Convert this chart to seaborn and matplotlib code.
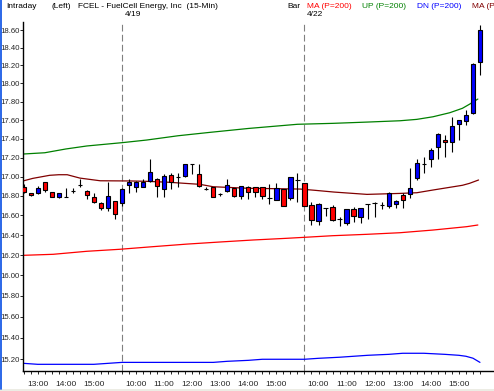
import numpy as np
import matplotlib
matplotlib.use("Agg")
import matplotlib.pyplot as plt
import seaborn as sns
from matplotlib.ticker import FixedLocator, FixedFormatter, NullFormatter

# 15-min bars: 4/18 from 12:30, full 4/19, full 4/22
bar_idx = list(range(66))
opens = [16.895, 16.833, 16.826, 16.941, 16.837, 16.792, 16.792, 16.848, 16.908, 16.854,
         16.792, 16.724, 16.673, 16.748, 16.724, 16.910, 16.892, 16.889, 16.957, 16.972,
         16.868, 17.017, 17.000, 17.006, 17.129, 17.025, 16.871, 16.895, 16.816, 16.851,
         16.878, 16.802, 16.889, 16.889, 16.889, 16.782, 16.758, 16.868, 16.775, 16.965,
         16.930, 16.707, 16.546, 16.673, 16.683, 16.563, 16.520, 16.666, 16.581, 16.717,
         16.728, 16.704, 16.700, 16.714, 16.810, 16.820, 16.982, 17.136, 17.182, 17.309,
         17.386, 17.365, 17.561, 17.590, 17.673, 18.235]
highs = [16.920, 16.835, 16.905, 16.948, 16.844, 16.833, 16.878, 16.878, 16.975, 16.861,
         16.826, 16.738, 16.948, 16.748, 16.878, 16.972, 16.950, 16.972, 17.182, 16.982,
         17.028, 17.035, 17.035, 17.129, 17.130, 17.132, 16.895, 16.895, 16.826, 16.972,
         16.878, 16.899, 16.902, 16.895, 16.889, 16.923, 16.937, 16.868, 16.993, 17.035,
         16.937, 16.740, 16.724, 16.673, 16.707, 16.587, 16.666, 16.690, 16.676, 16.717,
         16.740, 16.740, 16.844, 16.758, 16.826, 17.087, 17.185, 17.209, 17.298, 17.458,
         17.440, 17.630, 17.601, 17.709, 18.231, 18.657]
lows = [16.835, 16.800, 16.816, 16.837, 16.786, 16.782, 16.792, 16.826, 16.895, 16.772,
        16.731, 16.655, 16.645, 16.563, 16.700, 16.830, 16.844, 16.889, 16.948, 16.792,
        16.792, 16.871, 16.895, 16.993, 17.028, 16.895, 16.861, 16.786, 16.800, 16.840,
        16.786, 16.768, 16.768, 16.792, 16.768, 16.714, 16.758, 16.694, 16.758, 16.740,
        16.697, 16.503, 16.503, 16.594, 16.540, 16.496, 16.503, 16.535, 16.526, 16.560,
        16.581, 16.666, 16.673, 16.673, 16.673, 16.775, 16.965, 17.041, 17.104, 17.182,
        17.203, 17.262, 17.386, 17.544, 17.663, 18.094]
closes = [16.844, 16.810, 16.881, 16.861, 16.792, 16.830, 16.792, 16.848, 16.908, 16.810,
          16.738, 16.673, 16.800, 16.614, 16.868, 16.948, 16.948, 16.948, 17.048, 16.905,
          17.006, 16.948, 17.000, 17.129, 17.129, 16.905, 16.871, 16.792, 16.816, 16.910,
          16.802, 16.899, 16.844, 16.844, 16.802, 16.782, 16.878, 16.700, 16.993, 16.965,
          16.697, 16.553, 16.714, 16.673, 16.553, 16.563, 16.666, 16.598, 16.676, 16.717,
          16.728, 16.704, 16.826, 16.745, 16.758, 16.882, 17.140, 17.136, 17.280, 17.447,
          17.362, 17.536, 17.601, 17.655, 18.216, 18.600]

# indicator lines, read at points along the bar axis
ma_fast_x = [0, 1.3, 3.7, 5, 6.2, 8, 10.9, 15.2, 17.6, 20.8, 23, 25.1, 27, 32, 39.4,
             41.5, 44.2, 48.9, 53.6, 56, 58.3, 60.7, 62.5, 63.5, 64.8]
ma_fast_y = [16.957, 16.982, 17.014, 17.020, 17.020, 16.985, 16.957, 16.955, 16.951, 16.941,
             16.930, 16.920, 16.895, 16.879, 16.871, 16.858, 16.840, 16.816, 16.826, 16.833,
             16.861, 16.889, 16.910, 16.930, 16.965]
up_x = [0, 3, 6, 9, 12, 14, 17.5, 22, 26.5, 32, 39, 44, 49, 53.6, 56, 58.3, 60.7, 62.5, 63.5, 64.7]
up_y = [17.238, 17.251, 17.291, 17.323, 17.344, 17.358, 17.386, 17.432, 17.468, 17.510,
        17.555, 17.565, 17.579, 17.593, 17.608, 17.636, 17.680, 17.728, 17.772, 17.829]
ma_x = [0, 4.2, 9, 13.7, 18.4, 23.3, 28, 32.7, 37.5, 40.8, 44, 48.9, 53.6, 58.3, 63.1, 64.7]
ma_y = [16.199, 16.209, 16.239, 16.259, 16.285, 16.311, 16.332, 16.352, 16.369, 16.382,
        16.395, 16.409, 16.425, 16.452, 16.486, 16.503]
dn_x = [0, 2, 10, 12, 14, 27, 29, 32, 34, 40, 42, 45, 47, 49, 52, 54, 57, 60, 62, 63, 64, 65]
dn_y = [15.160, 15.151, 15.151, 15.160, 15.169, 15.169, 15.179, 15.188, 15.198, 15.198,
        15.207, 15.217, 15.226, 15.235, 15.244, 15.254, 15.254, 15.244, 15.235, 15.226,
        15.208, 15.169]

hour_pos = [2, 6, 10, 16, 20, 24, 28, 32, 36, 42, 46, 50, 54, 58, 62]
hour_labels = ["13:00", "14:00", "15:00", "10:00", "11:00", "12:00", "13:00", "14:00",
               "15:00", "10:00", "11:00", "12:00", "13:00", "14:00", "15:00"]
day_breaks = [14, 40]
day_labels = ["4/19", "4/22"]
y_ticks = [15.20, 15.40, 15.60, 15.80, 16.00, 16.20, 16.40, 16.60, 16.80,
           17.00, 17.20, 17.40, 17.60, 17.80, 18.00, 18.20, 18.40, 18.60]

sns.set_style("white")
plt.rcParams['font.family'] = ['Liberation Sans', 'DejaVu Sans']

W, H = 494, 391
fig = plt.figure(figsize=(W / 100, H / 100), dpi=100)
ax = fig.add_axes([23 / W, 20 / H, 471 / W, 349 / H])
ax.set_yscale('log')

# separators
for b in day_breaks:
    ax.axvline(b, color='#808080', lw=0.8, ls=(0, (6, 3)), zorder=1.5)

# indicators
sns.lineplot(x=up_x, y=up_y, ax=ax, color='#008000', lw=0.9, zorder=2)
sns.lineplot(x=ma_fast_x, y=ma_fast_y, ax=ax, color='#800000', lw=0.9, zorder=2)
sns.lineplot(x=ma_x, y=ma_y, ax=ax, color='#ff0000', lw=0.9, zorder=2)
sns.lineplot(x=dn_x, y=dn_y, ax=ax, color='#0000ff', lw=0.9, zorder=2)

# candles
o = np.array(opens)
c = np.array(closes)
cols = np.where(c > o, '#0000ff', np.where(c < o, '#ff0000', 'black'))
ax.vlines(bar_idx, lows, highs, color='black', lw=0.8, zorder=3)
ax.bar(bar_idx, np.abs(c - o), bottom=np.minimum(o, c), width=0.62, color=cols,
       edgecolor='black', linewidth=0.8, zorder=4)

ax.set_xlim(-0.1, 67.0)
ax.set_ylim(15.089, 18.692)

ax.yaxis.set_major_locator(FixedLocator(y_ticks))
ax.yaxis.set_major_formatter(FixedFormatter(["%.2f" % t for t in y_ticks]))
ax.yaxis.set_minor_locator(FixedLocator([]))
ax.yaxis.set_minor_formatter(NullFormatter())
ax.xaxis.set_major_locator(FixedLocator(hour_pos))
ax.xaxis.set_major_formatter(FixedFormatter(hour_labels))
ax.xaxis.set_minor_locator(FixedLocator(bar_idx))
ax.tick_params(axis='y', which='major', direction='out', length=2.0, width=0.7,
               pad=0.3, labelsize=5.6, left=True)
ax.tick_params(axis='x', which='both', direction='out', length=2.2, width=0.7,
               bottom=True)
ax.tick_params(axis='x', which='major', pad=5, labelsize=6)
ax.set_xlabel('')
ax.set_ylabel('')

for s in ['top', 'right']:
    ax.spines[s].set_visible(False)
for s in ['left', 'bottom']:
    ax.spines[s].set_color('black')
    ax.spines[s].set_linewidth(1.0)

# header
def px_text(x, y, s, color='black'):
    fig.text(x / W, 1 - y / H, s, color=color, fontsize=6, va='center', ha='left')

px_text(6.5, 6, "Intraday")
px_text(51, 6, "(Left)")
px_text(77.5, 6, "FCEL - FuelCell Energy, Inc  (15-Min)")
px_text(287, 6, "Bar")
px_text(307, 6, "MA (P=200)", '#ff0000')
px_text(362, 6, "UP (P=200)", '#008000')
px_text(417, 6, "DN (P=200)", '#0000ff')
px_text(472, 6, "MA (P", '#800000')
px_text(125, 15, day_labels[0])
px_text(307, 15, day_labels[1])

# window edge
fig.add_artist(plt.Line2D([0.8 / W, 0.8 / W], [2 / H, 1], transform=fig.transFigure,
                          color='#1a5ce6', lw=1.3))
fig.add_artist(plt.Rectangle((0, 0), 1, 2 / H, transform=fig.transFigure,
                             color='#ecece4', lw=0))

fig.savefig('out.png', dpi=100)
